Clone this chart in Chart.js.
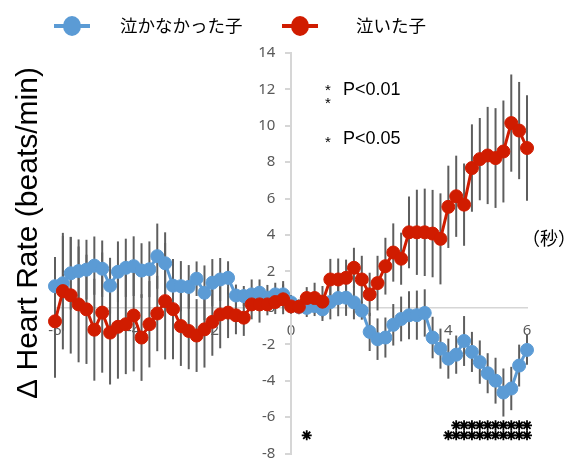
<!DOCTYPE html>
<html>
<head>
<meta charset="utf-8">
<script src="https://cdn.jsdelivr.net/npm/chart.js@4.4.0/dist/chart.umd.min.js"></script>
<style>
  html, body { margin: 0; padding: 0; background: #fff; }
  #wrap { width: 580px; height: 461px; }
</style>
</head>
<body>
<div id="wrap"><canvas id="hr" width="580" height="461"></canvas></div>
<script>
// time (s) relative to the stimulus
const times = [
  -6.0, -5.8, -5.6, -5.4, -5.2, -5.0, -4.8, -4.6, -4.4, -4.2,
  -4.0, -3.8, -3.6, -3.4, -3.2, -3.0, -2.8, -2.6, -2.4, -2.2,
  -2.0, -1.8, -1.6, -1.4, -1.2, -1.0, -0.8, -0.6, -0.4, -0.2,
  0.0, 0.2, 0.4, 0.6, 0.8, 1.0, 1.2, 1.4, 1.6, 1.8,
  2.0, 2.2, 2.4, 2.6, 2.8, 3.0, 3.2, 3.4, 3.6, 3.8,
  4.0, 4.2, 4.4, 4.6, 4.8, 5.0, 5.2, 5.4, 5.6, 5.8, 6.0
];

// 泣かなかった子
const notCried = [
  1.19, 1.35, 1.9, 2.02, 2.1, 2.32, 2.15, 1.22, 1.98, 2.2,
  2.29, 2.05, 2.12, 2.84, 2.45, 1.22, 1.19, 1.15, 1.6, 0.83,
  1.38, 1.56, 1.65, 0.68, 0.65, 0.74, 0.83, 0.56, 0.74, 0.74,
  0.3, 0.05, 0.0, 0.1, -0.08, 0.32, 0.54, 0.56, 0.3, -0.15,
  -1.32, -1.72, -1.63, -0.93, -0.61, -0.41, -0.4, -0.28, -1.63, -2.24,
  -2.79, -2.57, -1.82, -2.42, -2.98, -3.59, -4.0, -4.65, -4.43, -3.17, -2.31
];
const notCriedErr = [
  1.61, 2.6, 2.0, 1.74, 1.64, 1.6, 1.55, 1.53, 1.67, 1.6,
  1.64, 1.5, 1.53, 1.79, 1.7, 1.35, 1.38, 1.2, 0.95, 1.5,
  1.3, 1.18, 0.91, 0.6, 0.55, 0.82, 0.73, 0.7, 0.64, 0.73,
  0.4, 0.4, 0.5, 0.55, 0.64, 0.95, 1.0, 1.0, 0.93, 0.5,
  1.05, 1.14, 1.1, 1.14, 1.23, 1.32, 1.35, 1.3, 1.14, 1.1,
  1.1, 1.05, 1.37, 1.1, 1.19, 1.1, 1.26, 1.32, 1.19, 1.15, 0.82
];

// 泣いた子
const cried = [
  -0.74, 0.92, 0.69, 0.19, -0.08, -1.2, -0.26, -1.36, -1.04, -0.9,
  -0.42, -1.63, -0.9, -0.31, 0.37, -0.07, -1.0, -1.27, -1.52, -1.18,
  -0.77, -0.36, -0.26, -0.41, -0.54, 0.19, 0.19, 0.19, 0.32, 0.47,
  0.08, 0.06, 0.54, 0.54, 0.34, 1.56, 1.56, 1.65, 2.2, 1.56,
  0.74, 1.36, 2.29, 3.04, 2.7, 4.15, 4.15, 4.15, 4.08, 3.79,
  5.55, 6.13, 5.67, 7.68, 8.17, 8.37, 8.23, 8.59, 10.15, 9.74, 8.78
];
const criedErr = [
  3.1, 3.2, 3.2, 3.18, 3.0, 2.8, 3.3, 2.85, 2.85, 2.74,
  3.07, 2.38, 2.37, 2.07, 3.2, 2.75, 2.19, 2.1, 2.0, 2.1,
  1.86, 1.86, 1.4, 1.04, 1.0, 0.82, 1.0, 0.6, 0.66, 0.82,
  0.4, 0.4, 0.6, 0.84, 0.86, 1.13, 1.15, 1.0, 1.1, 1.3,
  1.19, 1.5, 1.56, 1.6, 1.43, 1.97, 2.34, 2.4, 2.4, 2.5,
  2.26, 2.23, 2.26, 2.4, 2.26, 2.67, 2.74, 2.8, 2.67, 2.67, 2.9
];

// times with a significant difference
const sigP05 = [0.4, 4.0, 4.2, 4.4, 4.6, 4.8, 5.0, 5.2, 5.4, 5.6, 5.8, 6.0];
const sigP01 = [4.2, 4.4, 4.6, 4.8, 5.0, 5.2, 5.4, 5.6, 5.8, 6.0];

const xTickLabels = [-6, -4, -2, 0, 2, 4, 6];
const yTickLabels = [-8, -6, -4, -2, 0, 2, 4, 6, 8, 10, 12, 14];

const BLUE = '#5b9bd5';
const RED = '#d01c00';
const STAR_LOW = -7;
const STAR_HIGH = -6.45;

const toPoints = (xs, ys) => xs.map((x, i) => ({ x: x, y: ys[i] }));

// vertical error bars, drawn under the points
const errorBars = {
  id: 'errorBars',
  beforeDatasetsDraw(chart) {
    const { ctx, scales: { x, y } } = chart;
    ctx.save();
    ctx.strokeStyle = '#5e5e5e';
    ctx.lineWidth = 2;
    [[notCried, notCriedErr], [cried, criedErr]].forEach(([vals, errs]) => {
      vals.forEach((v, i) => {
        const px = x.getPixelForValue(times[i]);
        ctx.beginPath();
        ctx.moveTo(px, y.getPixelForValue(v + errs[i]));
        ctx.lineTo(px, y.getPixelForValue(v - errs[i]));
        ctx.stroke();
      });
    });
    ctx.restore();
  }
};

const annotations = {
  id: 'annotations',
  afterDraw(chart) {
    const { ctx, scales: { x, y } } = chart;
    ctx.save();

    // legend
    const legendItems = [
      { color: BLUE, text: '泣かなかった子', x0: 54, tx: 120 },
      { color: RED, text: '泣いた子', x0: 282, tx: 356 }
    ];
    legendItems.forEach(item => {
      ctx.strokeStyle = item.color;
      ctx.lineWidth = 4;
      ctx.beginPath();
      ctx.moveTo(item.x0, 26);
      ctx.lineTo(item.x0 + 36, 26);
      ctx.stroke();
      ctx.fillStyle = item.color;
      ctx.beginPath();
      ctx.ellipse(item.x0 + 18, 26, 9, 10, 0, 0, Math.PI * 2);
      ctx.fill();
      ctx.fillStyle = '#000';
      ctx.font = '17.5px "Noto Sans CJK JP"';
      ctx.textAlign = 'left';
      ctx.textBaseline = 'middle';
      ctx.fillText(item.text, item.tx, 25);
    });

    // axis title
    ctx.save();
    ctx.translate(29, 233);
    ctx.rotate(-Math.PI / 2);
    ctx.font = '30px "Liberation Sans", Arial, sans-serif';
    ctx.fillStyle = '#000';
    ctx.textAlign = 'center';
    ctx.textBaseline = 'middle';
    ctx.fillText('Δ Heart Rate (beats/min)', 0, 0);
    ctx.restore();

    // unit
    ctx.font = '18px "Noto Sans CJK JP"';
    ctx.fillStyle = '#000';
    ctx.textAlign = 'left';
    ctx.textBaseline = 'middle';
    ctx.fillText('（秒）', 522, 238);

    // significance key
    ctx.font = '15px "Liberation Sans", Arial, sans-serif';
    ctx.textAlign = 'center';
    ctx.textBaseline = 'alphabetic';
    const sx = x.getPixelForValue(0.94);
    [12.15, 11.42, 9.33].forEach(v => {
      ctx.fillText('*', sx, y.getPixelForValue(v) + 8.5);
    });
    ctx.font = '18px "Liberation Sans", Arial, sans-serif';
    ctx.textAlign = 'left';
    ctx.textBaseline = 'middle';
    ctx.fillText('P<0.01', x.getPixelForValue(1.32), y.getPixelForValue(11.97));
    ctx.fillText('P<0.05', x.getPixelForValue(1.32), y.getPixelForValue(9.29));

    ctx.restore();
  }
};

// axes cross in the middle, so they should not eat into the outer padding
const noEdgePadding = s => {
  s.paddingTop = 0;
  s.paddingBottom = 0;
  s.paddingLeft = 0;
  s.paddingRight = 0;
};

new Chart(document.getElementById('hr'), {
  type: 'line',
  data: {
    datasets: [
      {
        label: '泣いた子',
        data: toPoints(times, cried),
        borderColor: RED,
        backgroundColor: RED,
        borderWidth: 3,
        pointRadius: 6.5,
        pointBorderWidth: 1,
        order: 1,
        clip: false
      },
      {
        label: '泣かなかった子',
        data: toPoints(times, notCried),
        borderColor: BLUE,
        backgroundColor: BLUE,
        borderWidth: 3,
        pointRadius: 6.5,
        pointBorderWidth: 1,
        order: 2,
        clip: false
      },
      {
        label: 'p<0.05',
        data: sigP05.map(t => ({ x: t, y: STAR_LOW })),
        showLine: false,
        pointStyle: 'star',
        pointRadius: 5,
        borderColor: '#000',
        pointBorderWidth: 1.8,
        order: 0,
        clip: false
      },
      {
        label: 'p<0.01',
        data: sigP01.map(t => ({ x: t, y: STAR_HIGH })),
        showLine: false,
        pointStyle: 'star',
        pointRadius: 5,
        borderColor: '#000',
        pointBorderWidth: 1.8,
        order: 0,
        clip: false
      }
    ]
  },
  options: {
    responsive: false,
    animation: false,
    layout: { padding: { left: 55, right: 53, top: 53, bottom: 3 } },
    plugins: { legend: { display: false }, tooltip: { enabled: false } },
    scales: {
      x: {
        type: 'linear',
        min: -6,
        max: 6,
        position: { y: 0 },
        afterBuildTicks: s => { s.ticks = xTickLabels.map(v => ({ value: v })); },
        afterFit: noEdgePadding,
        grid: { drawOnChartArea: false, drawTicks: false },
        border: { color: '#d6d6d6', width: 1.5 },
        ticks: {
          color: '#595959',
          padding: 14,
          font: { family: '"Noto Sans", sans-serif', size: 15 }
        }
      },
      y: {
        type: 'linear',
        min: -8,
        max: 14,
        position: { x: 0 },
        afterBuildTicks: s => { s.ticks = yTickLabels.map(v => ({ value: v })); },
        afterFit: noEdgePadding,
        grid: { drawOnChartArea: false, tickLength: 5, color: '#d6d6d6', lineWidth: 2 },
        border: { color: '#d6d6d6', width: 2 },
        ticks: {
          color: '#595959',
          padding: 12,
          // labels sit right on a centred axis, so pad them with spaces
          callback: v => v + '    ',
          font: { family: '"Noto Sans", sans-serif', size: 15 }
        }
      }
    }
  },
  plugins: [errorBars, annotations]
});
</script>
</body>
</html>
